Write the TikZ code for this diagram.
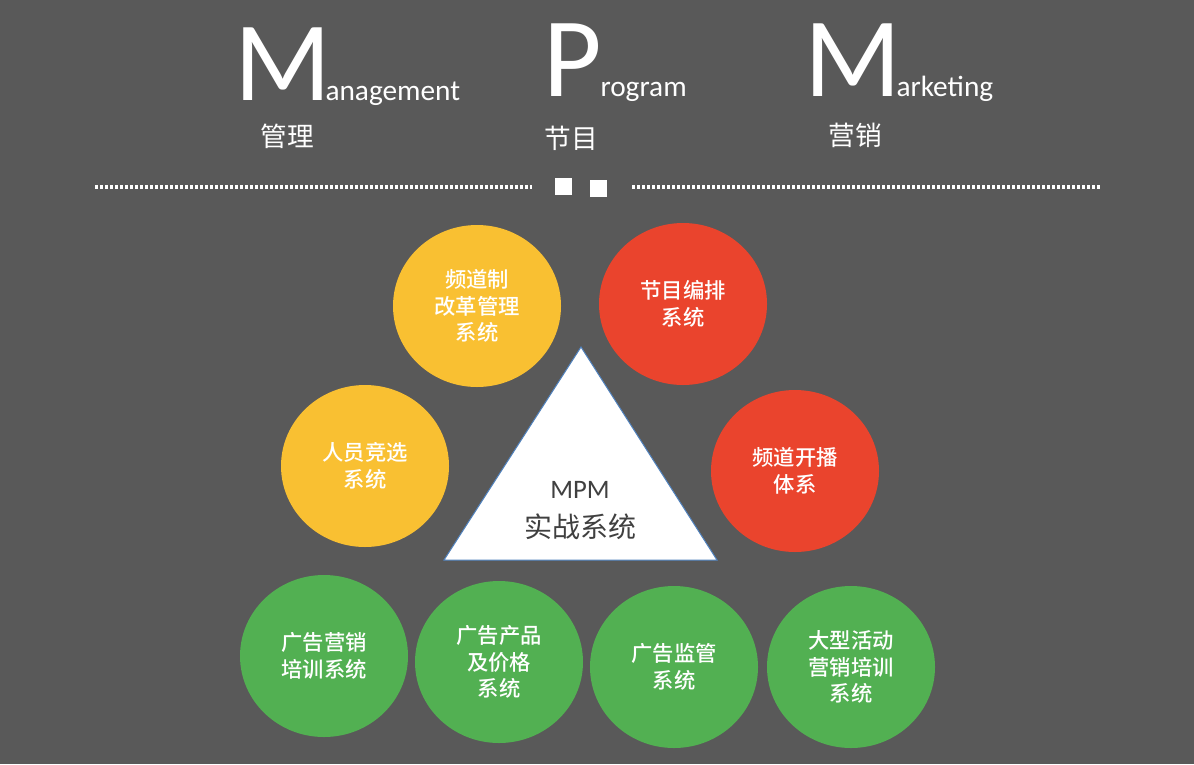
\documentclass[tikz,border=0pt]{standalone}
\usepackage{fontspec}
\setmainfont{Carlito}
\newfontfamily\cjk{Noto Sans CJK SC}
\newfontfamily\cjkmid{Noto Sans CJK SC Medium}
\usetikzlibrary{shapes.geometric}

\definecolor{bgGray}{RGB}{89,89,89}
\definecolor{sysYellow}{RGB}{249,192,50}
\definecolor{sysRed}{RGB}{234,68,45}
\definecolor{sysGreen}{RGB}{82,176,82}
\definecolor{triBlue}{RGB}{79,129,189}
\definecolor{triText}{RGB}{64,64,64}

\tikzset{every picture/.style={line width=0.75pt}}
\tikzset{
	sysball/.style={ellipse, minimum width=126pt, minimum height=121.5pt, inner sep=0pt, text=white, align=center, font=\cjkmid\fontsize{16}{20}\selectfont},
	bigcap/.style={anchor=base west, inner sep=0pt, text=white, font=\fontsize{85}{85}\selectfont},
	smallword/.style={anchor=base west, inner sep=0pt, text=white, font=\fontsize{22}{22}\selectfont},
	cnhead/.style={inner sep=0pt, text=white, font=\cjk\fontsize{20}{20}\selectfont},
	dotrule/.style={white, line width=3pt, dash pattern={on 2.5pt off 1.25pt}},
}

\begin{document}
\begin{tikzpicture}[x=0.75pt,y=0.75pt,yscale=-1,xscale=1]
	%Background
	\fill[bgGray] (0,0) rectangle (1194,764);

	% Text Node
	\node[bigcap] (mgmtM) at (234,100) {M};
	\node[smallword] (mgmtRest) at (325,100) {anagement};
	\node[bigcap] (progP) at (543,96) {P};
	\node[smallword] (progRest) at (600,96) {rogram};
	\node[bigcap] (mktM) at (804,96) {M};
	\node[smallword] (mktRest) at (896,96) {arketing};
	% Text Node
	\node[cnhead] (mgmtCn) at (287,136) {管理};
	\node[cnhead] (progCn) at (571,138) {节目};
	\node[cnhead] (mktCn) at (855,135) {营销};

	%Straight Lines
	\draw[dotrule] (95,187) -- (532,187);
	\draw[dotrule] (632,187) -- (1102,187);
	%Shape: Square
	\fill[white] (555,178) rectangle (572,195);
	\fill[white] (590,180) rectangle (607,197);

	%Shape: Triangle
	\draw[triBlue, fill=white] (581,347) -- (444,560) -- (717,560) -- cycle;
	% Text Node
	\node[text=triText, font=\fontsize{20}{20}\selectfont] (mpm) at (580,490) {MPM};
	\node[text=triText, font=\cjk\fontsize{21}{21}\selectfont] (mpmCn) at (580,527) {实战系统};

	%Shape: Circle
	\node[sysball, fill=sysYellow] (chanReform) at (477,306) {频道制\\改革管理\\系统};
	\node[sysball, fill=sysRed] (progSched) at (683,304) {节目编排\\系统};
	\node[sysball, fill=sysYellow] (staffElect) at (365,466) {人员竞选\\系统};
	\node[sysball, fill=sysRed] (chanLaunch) at (795,471) {频道开播\\体系};
	\node[sysball, fill=sysGreen] (adTrain) at (324,656) {广告营销\\培训系统};
	\node[sysball, fill=sysGreen] (adPrice) at (499,662) {广告产品\\及价格\\系统};
	\node[sysball, fill=sysGreen] (adMonitor) at (674,667) {广告监管\\系统};
	\node[sysball, fill=sysGreen] (eventTrain) at (851,667) {大型活动\\营销培训\\系统};

\end{tikzpicture}
\end{document}
